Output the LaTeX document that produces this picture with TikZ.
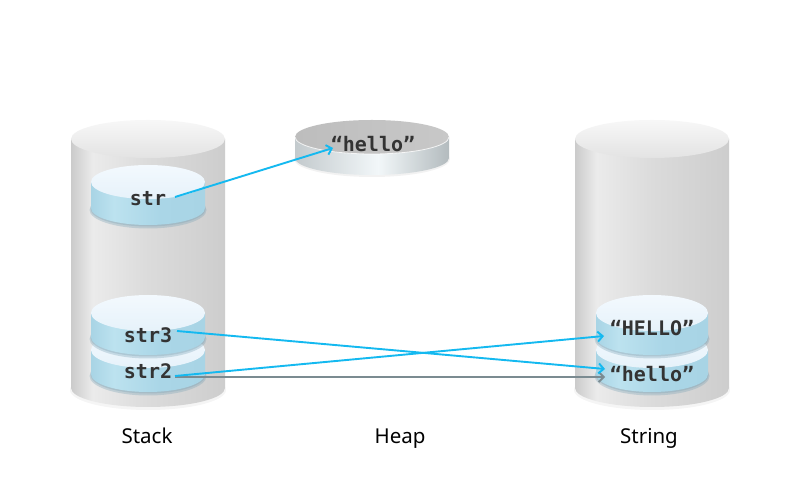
\documentclass[tikz,border=0pt]{standalone}
\usepackage{fontspec}
\setmainfont{Noto Sans}
\newfontfamily\codefont{DejaVu Sans Mono}
\usetikzlibrary{arrows.meta}
\definecolor{arrblue}{HTML}{14B9F0}
\definecolor{arrgray}{HTML}{7B8B91}
\definecolor{txtc}{HTML}{333333}
\definecolor{disktopA}{HTML}{F3F9FE}
\definecolor{disktopB}{HTML}{E6F2FA}
\definecolor{diskshad}{HTML}{7FA6B8}
\definecolor{cA}{HTML}{CBCBCB}
\definecolor{cB}{HTML}{EBEBEB}
\definecolor{cC}{HTML}{DBDBDB}
\definecolor{cD}{HTML}{D0D0D0}
\definecolor{cE}{HTML}{CDCDCD}
\definecolor{hA}{HTML}{C3CACD}
\definecolor{hB}{HTML}{F2F7F9}
\definecolor{hC}{HTML}{B3BBBE}
\definecolor{htA}{HTML}{BDBDBD}
\definecolor{htB}{HTML}{C8C8C8}
\definecolor{dA}{HTML}{A8D4E5}
\definecolor{dB}{HTML}{BCE2EF}
\definecolor{dC}{HTML}{AAD6E7}
\pgfdeclarehorizontalshading{cylbody}{100bp}{color(0bp)=(cA); color(25bp)=(cA); color(32bp)=(cB); color(50bp)=(cC); color(70bp)=(cD); color(75bp)=(cE); color(100bp)=(cE)}
\pgfdeclarehorizontalshading{heapside}{100bp}{color(0bp)=(hA); color(25bp)=(hA); color(52bp)=(hB); color(75bp)=(hC); color(100bp)=(hC)}
\pgfdeclarehorizontalshading{diskbody}{100bp}{color(0bp)=(dA); color(25bp)=(dA); color(35bp)=(dB); color(55bp)=(dC); color(75bp)=(dA); color(100bp)=(dA)}
\newcommand\mycyl[1]{%
  \fill[black,opacity=.04] (#1,110) ellipse[x radius=78,y radius=20];
  \shade[shading=cylbody] (#1-77,361) -- (#1-77,112) arc[start angle=180,end angle=360,x radius=77,y radius=19] -- (#1+77,361) -- cycle;
  \shade[top color=white!97!black, bottom color=white!89!black] (#1,361) ellipse[x radius=77,y radius=19];
}
\newcommand\mydisk[5]{% cx, ytop, ybot, rx, ry
  \fill[diskshad,opacity=.35] (#1,#3-2) ellipse[x radius=#4+1.5,y radius=#5+1.5];
  \fill[diskshad,opacity=.35] (#1,#3-1) ellipse[x radius=#4+0.5,y radius=#5+0.5];
  \shade[shading=diskbody] (#1-#4,#2) -- (#1-#4,#3) arc[start angle=180,end angle=360,x radius=#4,y radius=#5] -- (#1+#4,#2) -- cycle;
  \shade[top color=disktopA, bottom color=disktopB] (#1,#2) ellipse[x radius=#4,y radius=#5];
}
\tikzset{
  x=1pt,y=1pt,
  code/.style={font=\codefont\bfseries\fontsize{20}{23}\selectfont, text=txtc, inner sep=0pt, anchor=base},
  lbl/.style={font=\fontsize{20.5}{24}\selectfont, text=black, inner sep=0pt, anchor=base},
  bluearrow/.style={draw=arrblue, line width=1.9pt, -{Straight Barb[length=5pt,width=10pt]}},
  grayarrow/.style={draw=arrgray, line width=1.9pt, -{Straight Barb[length=5pt,width=10pt]}}
}
\begin{document}
\begin{tikzpicture}
\useasboundingbox (0,0) rectangle (800,500);
\fill[white] (0,0) rectangle (800,500);
% cylinders
\mycyl{148}
\mycyl{652}
% heap disk
\fill[black,opacity=.05] (372,341) ellipse[x radius=78,y radius=18];
\shade[shading=heapside] (295,363) -- (295,342) arc[start angle=180,end angle=360,x radius=77,y radius=17] -- (449,363) -- cycle;
\shade[left color=htA, right color=htB] (372,363) ellipse[x radius=77,y radius=17];
\draw[white,line width=0.8pt,opacity=.8] (295,363) arc[start angle=180,end angle=360,x radius=77,y radius=17];
% stack disks
\mydisk{148}{318}{292}{57}{17}
\mydisk{148}{150}{126}{57}{18}
\mydisk{148}{187}{163}{57}{18}
% string disks
\mydisk{652}{150}{126}{56}{18}
\mydisk{652}{187}{163}{56}{18}
% texts
\node[code] (str) at (148,294) {str};
\node[code] (str3) at (148,157) {str3};
\node[code] (str2) at (148,121) {str2};
\node[code] (heaphello) at (373,348) {“hello”};
\node[code] (HELLO) at (652,164) {“HELLO”};
\node[code] (hello) at (652,118) {“hello”};
\node[lbl] (stack) at (147,56) {Stack};
\node[lbl] (heap) at (400,56) {Heap};
\node[lbl] (string) at (649,56) {String};
% arrow ends
\coordinate (a1s) at (175,303);
\coordinate (a1e) at (333,352);
\coordinate (a2s) at (177,169);
\coordinate (a2e) at (605,131);
\coordinate (a3s) at (175,124);
\coordinate (a3e) at (604,164);
\coordinate (a4s) at (175,123);
\coordinate (a4e) at (605,123);
\draw[grayarrow] (a4s) -- (a4e);
\draw[bluearrow] (a1s) -- (a1e);
\draw[bluearrow] (a2s) -- (a2e);
\draw[bluearrow] (a3s) -- (a3e);
\end{tikzpicture}
\end{document}
